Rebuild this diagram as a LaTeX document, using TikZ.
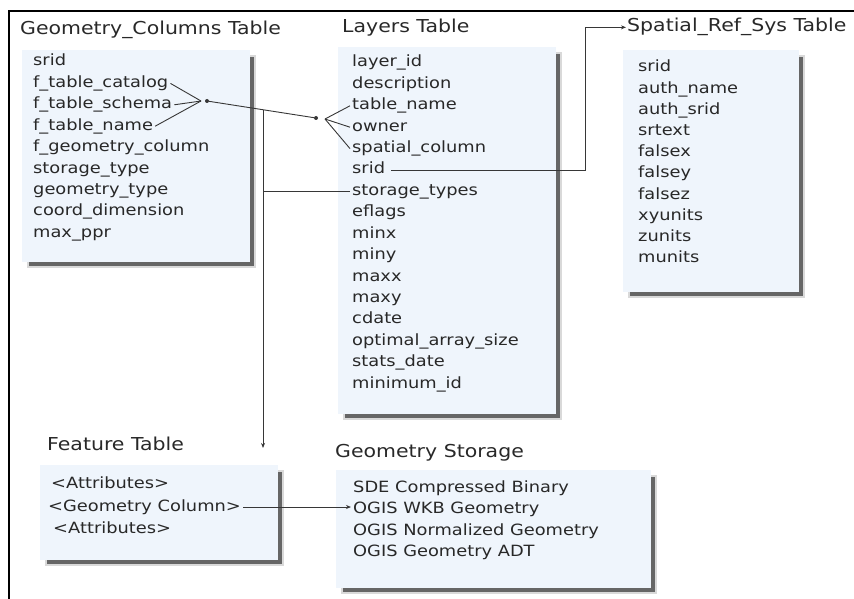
\documentclass[tikz,border=0pt]{standalone}
\usepackage{fontspec}
\newfontfamily\tabfont[FakeStretch=1.15]{DejaVu Sans}
\usetikzlibrary{arrows.meta,calc,positioning}

\definecolor{boxfill}{RGB}{239,245,252}
\definecolor{inkgray}{RGB}{40,40,40}
\definecolor{linegray}{RGB}{55,55,55}

% box with a dark drop shadow on the right and bottom
\newcommand{\tablebox}[4]{%
  \fill[black!15] (#1+5,#2+5) rectangle (#3+5.5,#4+5.5);
  \fill[black!60] (#1+7,#2+7) rectangle (#3+3.5,#4+3.5);
  \fill[boxfill] (#1,#2) rectangle (#3,#4);}

\begin{document}
\begin{tikzpicture}
    [x=1pt, y=-1pt, >={Stealth[length=5pt,width=4pt]},
    title/.style={font=\tabfont\fontsize{17.8}{20}\selectfont, text=inkgray,
      anchor=base west, inner sep=0pt},
    entry/.style={font=\tabfont\fontsize{15.5}{18}\selectfont, text=inkgray,
      anchor=west, inner xsep=2pt, inner ysep=0pt, text height=11pt, text depth=3pt},
    link/.style={draw=linegray, line width=0.9pt},
    dot/.style={circle, fill=linegray, inner sep=0pt, minimum size=4pt}]

  \useasboundingbox (0,0) rectangle (854,599);
  \draw[line width=1.6pt] (9,599) -- (9,11) -- (854,11);

  \tablebox{22}{50}{250}{262}
  \tablebox{338}{47}{556}{414}
  \tablebox{623}{50}{799}{292}
  \tablebox{40}{465}{278}{560}
  \tablebox{336}{470}{651}{588}

  \node[title] (gc-title) at (20,35) {Geometry\_Columns Table};
  \node[title] (ly-title) at (342,33) {Layers Table};
  \node[title] (srs-title) at (627,32) {Spatial\_Ref\_Sys Table};
  \node[title] (ft-title) at (47,450) {Feature Table};
  \node[title] (gs-title) at (335,457) {Geometry Storage};

  \foreach \nm/\lbl [count=\i from 0] in {srid/srid, catalog/f\_table\_catalog,
      schema/f\_table\_schema, tname/f\_table\_name, geomcol/f\_geometry\_column,
      stype/storage\_type, gtype/geometry\_type, coord/coord\_dimension, maxppr/max\_ppr}
    \node[entry] (gc-\nm) at (31,62+21.4*\i) {\lbl};

  \foreach \nm/\lbl [count=\i from 0] in {id/layer\_id, desc/description,
      tname/table\_name, owner/owner, spatial/spatial\_column, srid/srid,
      storage/storage\_types, eflags/eflags, minx/minx, miny/miny, maxx/maxx,
      maxy/maxy, cdate/cdate, oas/optimal\_array\_size, sdate/stats\_date,
      minid/minimum\_id}
    \node[entry] (ly-\nm) at (350,63+21.4*\i) {\lbl};

  \foreach \nm/\lbl [count=\i from 0] in {srid/srid, aname/auth\_name,
      asrid/auth\_srid, srtext/srtext, fx/falsex, fy/falsey, fz/falsez,
      xyu/xyunits, zu/zunits, mu/munits}
    \node[entry] (srs-\nm) at (636,68+21.2*\i) {\lbl};

  \node[entry] (ft-attra) at (49,484) {<Attributes>};
  \node[entry] (ft-geom) at (46,507) {<Geometry Column>};
  \node[entry] (ft-attrb) at (51,529) {<Attributes>};

  \foreach \nm/\lbl [count=\i from 0] in {sde/SDE Compressed Binary,
      wkb/OGIS WKB Geometry, norm/OGIS Normalized Geometry, adt/OGIS Geometry ADT}
    \node[entry] (gs-\nm) at (351,488+21.5*\i) {\lbl};

  % crow's feet between Geometry_Columns and Layers
  \coordinate (gc-fork) at (201,101);
  \coordinate (ly-fork) at (325,119);
  \foreach \nm in {catalog,schema,tname}
    \draw[link] (gc-\nm.east) -- (gc-fork);
  \foreach \nm in {tname,owner,spatial}
    \draw[link] (ly-\nm.west) -- (ly-fork);
  \node[dot] (gc-dot) at (207,101) {};
  \node[dot] (ly-dot) at (316,118) {};
  \draw[link] (gc-dot) -- (ly-dot);

  % down to the feature table
  \coordinate (split) at ($(gc-dot)!0.514!(ly-dot)$);
  \coordinate (ft-in) at (263,448);
  \draw[link,->] (split) -- (split |- ft-in);
  \draw[link] (ly-storage.west) -- (ly-storage.west -| split);

  \draw[link,->,shorten <=4pt,shorten >=1pt] (ly-srid.east)
    -| ([xshift=-42pt]srs-title.west) -- (srs-title.west);
  \draw[link,->] (ft-geom.east) -- (ft-geom.east -| gs-wkb.west);

\end{tikzpicture}
\end{document}
